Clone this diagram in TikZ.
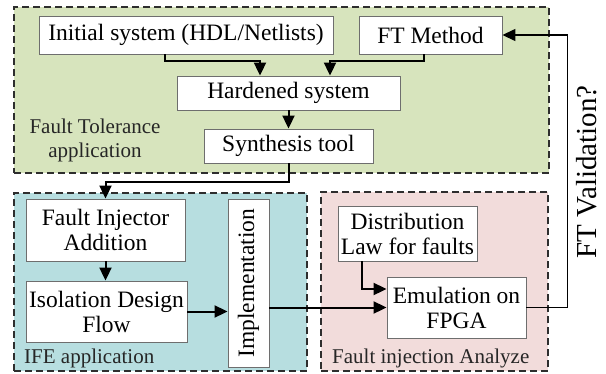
\documentclass[tikz,border=0pt]{standalone}
\usepackage{fontspec}
\setmainfont{Liberation Serif}
\usetikzlibrary{arrows.meta}

\definecolor{ftgreen}{HTML}{D7E4BD}
\definecolor{ifecyan}{HTML}{B7DEE0}
\definecolor{fipink}{HTML}{F2DCDB}
\definecolor{boxline}{HTML}{6E6E6E}
\definecolor{dashline}{HTML}{2E2E2E}

\tikzset{
  stagebox/.style={draw=boxline, fill=white, line width=0.9pt, inner sep=0pt,
    align=center, font=\fontsize{23.5}{25}\selectfont},
  zone/.style={draw=dashline, line width=1.3pt, dash pattern=on 7pt off 4pt,
    inner sep=0pt},
  zonelabel/.style={inner sep=0pt, text=black!85, align=center,
    font=\fontsize{21}{24}\selectfont},
  flow/.style={line width=2pt, -{Triangle[length=13pt,width=12pt]}},
  backflow/.style={line width=1.4pt, -{Triangle[length=13pt,width=12pt]}},
}

\begin{document}
\begin{tikzpicture}[x=1pt, y=-1pt]
  \useasboundingbox (0,0) rectangle (606,373);

  % coloured zones
  \node[zone, fill=ftgreen, minimum width=535pt, minimum height=166pt] (ftzone) at (281.5,90) {};
  \node[zone, fill=ifecyan, minimum width=293pt, minimum height=178pt] (ifezone) at (160.5,282) {};
  \node[zone, fill=fipink, minimum width=227pt, minimum height=179pt] (fizone) at (434.5,281.5) {};

  % zone captions
  \node[zonelabel] (ftlabel) at (95,140) {Fault Tolerance\\application};
  \node[zonelabel, anchor=base west] (ifelabel) at (24,363) {IFE application};
  \node[zonelabel, anchor=base west] (filabel) at (332,363) {Fault injection Analyze};

  % processing stages
  \node[stagebox, minimum width=294pt, minimum height=38pt] (init) at (186,35) {Initial system (HDL/Netlists)};
  \node[stagebox, minimum width=143pt, minimum height=38pt] (ftm) at (430.5,35) {FT Method};
  \node[stagebox, minimum width=223pt, minimum height=34pt] (hard) at (288.5,93) {Hardened system};
  \node[stagebox, minimum width=169pt, minimum height=34pt] (synth) at (288.5,146) {Synthesis tool};
  \node[stagebox, minimum width=159pt, minimum height=62pt] (fia) at (105.5,230) {Fault Injector\\Addition};
  \node[stagebox, minimum width=161pt, minimum height=61pt] (idf) at (106.5,311.5) {Isolation Design\\Flow};
  \node[stagebox, minimum width=41pt, minimum height=168pt] (impl) at (248.5,283) {};
  \node[rotate=90, inner sep=0pt, font=\fontsize{23.5}{25}\selectfont] (impltext) at (impl.center) {Implementation};
  \node[stagebox, minimum width=139pt, minimum height=55pt] (dist) at (407.5,233.5) {Distribution\\Law for faults};
  \node[stagebox, minimum width=139pt, minimum height=61pt] (emu) at (456.5,307.5) {Emulation on\\FPGA};

  % feedback caption
  \node[rotate=90, inner sep=0pt, font=\fontsize{29}{30}\selectfont] (ftval) at (587,172) {FT Validation?};

  % connectors
  \draw[flow] ([xshift=-21pt]init.south) -- ++(0,7) -| ([xshift=-28.5pt]hard.north);
  \draw[flow] ([xshift=-6.5pt]ftm.south) -- ++(0,7) -| ([xshift=41.5pt]hard.north);
  \draw[flow] (hard.south) -- (synth.north);
  \draw[flow] (synth.south) -- ++(0,19) -| (fia.north);
  \draw[flow] (fia.south) -- (fia.south |- idf.north);
  \draw[flow] (idf.east) -- (idf.east -| impl.west);
  \draw[flow] (impl.east |- emu.west) -- (emu.west);
  \draw[flow] ([xshift=-45.5pt]dist.south) |- ([yshift=18.5pt]emu.west);
  \draw[backflow] (emu.east) -- ++(41,0) |- (ftm.east);
\end{tikzpicture}
\end{document}
